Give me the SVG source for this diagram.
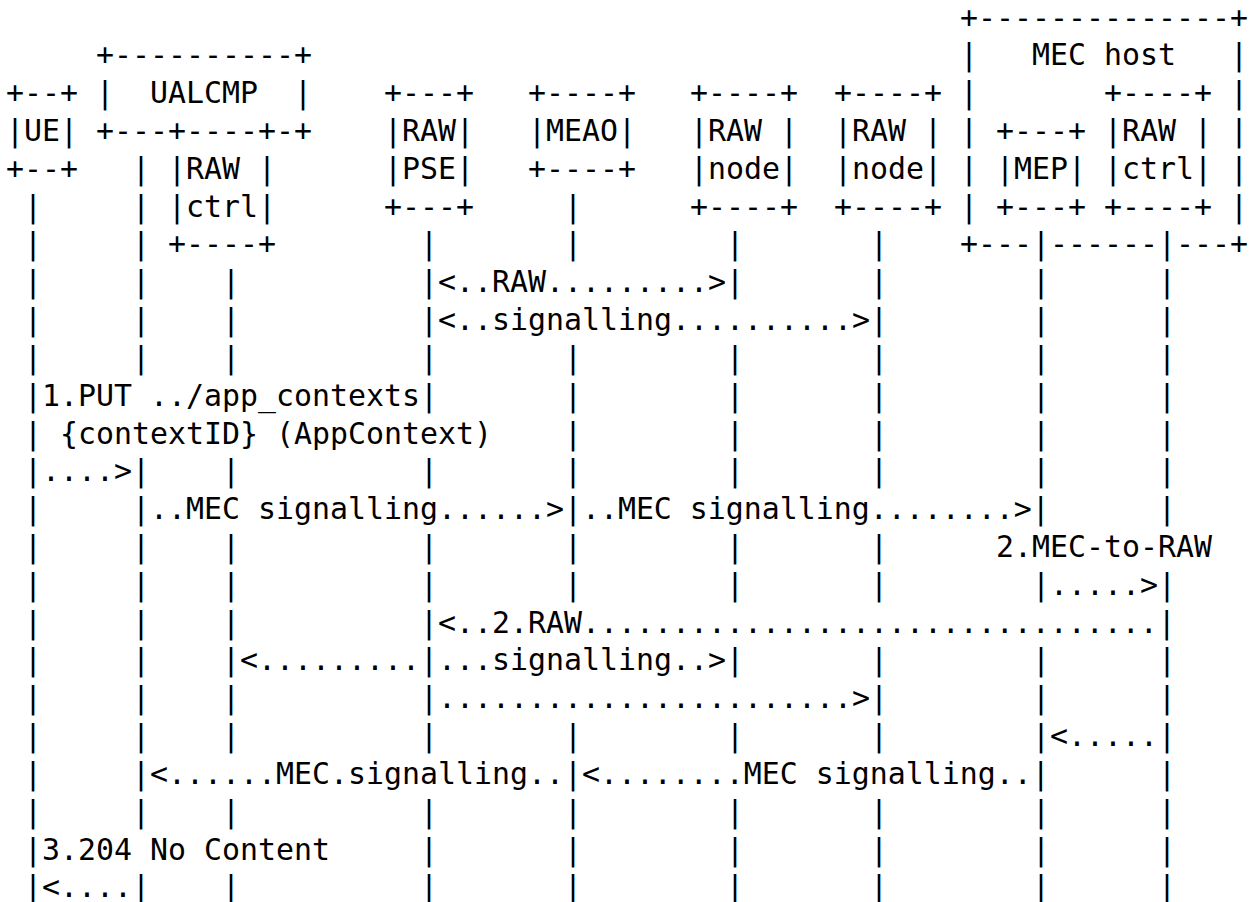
<svg xmlns="http://www.w3.org/2000/svg" width="1260" height="902" viewBox="0 0 1260 902" xml:space="preserve">
<style>
text { font-family: "DejaVu Sans Mono", "Liberation Mono", monospace; font-size: 29.9px; fill: #000; white-space: pre; }
</style>
<rect width="1260" height="902" fill="#fff"/>
<g id="ue">
<text x="6" y="103.14">+--+</text>
<text x="6" y="140.96">|UE|</text>
<text x="6" y="178.78">+--+</text>
</g>
<g id="ualcmp">
<text x="96" y="65.32">+----------+</text>
<text x="96" y="103.14">|  UALCMP  |</text>
<text x="96" y="140.96">+---+----+-+</text>
<g id="ualcmp-raw-ctrl">
<text x="168" y="178.78">|RAW |</text>
<text x="168" y="216.6">|ctrl|</text>
<text x="168" y="254.42">+----+</text>
</g>
</g>
<g id="raw-pse">
<text x="384" y="103.14">+---+</text>
<text x="384" y="140.96">|RAW|</text>
<text x="384" y="178.78">|PSE|</text>
<text x="384" y="216.6">+---+</text>
</g>
<g id="meao">
<text x="528" y="103.14">+----+</text>
<text x="528" y="140.96">|MEAO|</text>
<text x="528" y="178.78">+----+</text>
</g>
<g id="raw-node-1">
<text x="690" y="103.14">+----+</text>
<text x="690" y="140.96">|RAW |</text>
<text x="690" y="178.78">|node|</text>
<text x="690" y="216.6">+----+</text>
</g>
<g id="raw-node-2">
<text x="834" y="103.14">+----+</text>
<text x="834" y="140.96">|RAW |</text>
<text x="834" y="178.78">|node|</text>
<text x="834" y="216.6">+----+</text>
</g>
<g id="mec-host">
<text x="960" y="27.5">+--------------+</text>
<text x="960" y="65.32">|   MEC host   |</text>
<text x="960 1230" y="103.14">||</text>
<text x="960 1230" y="140.96">||</text>
<text x="960 1230" y="178.78">||</text>
<text x="960 1230" y="216.6">||</text>
<text x="960" y="254.42">+---|------|---+</text>
<g id="mep">
<text x="996" y="140.96">+---+</text>
<text x="996" y="178.78">|MEP|</text>
<text x="996" y="216.6">+---+</text>
</g>
<g id="mec-raw-ctrl">
<text x="1104" y="103.14">+----+</text>
<text x="1104" y="140.96">|RAW |</text>
<text x="1104" y="178.78">|ctrl|</text>
<text x="1104" y="216.6">+----+</text>
</g>
</g>
<g id="connectors">
<text x="132" y="178.78">|</text>
<text x="24 132 564" y="216.6">|||</text>
<text x="24 132 420 564 726 870" y="254.42">||||||</text>
<text x="24 132 222 870 1032 1158" y="292.24">||||||</text>
<text x="420" y="292.24">|&lt;..RAW.........&gt;|</text>
<text x="24 132 222 1032 1158" y="330.06">|||||</text>
<text x="420" y="330.06">|&lt;..signalling..........&gt;|</text>
<text x="24 132 222 420 564 726 870 1032 1158" y="367.88">|||||||||</text>
<text x="24" y="405.7">|1.PUT ../app_contexts|</text>
<text x="564 726 870 1032 1158" y="405.7">|||||</text>
<text x="24" y="443.52">| {contextID} (AppContext)</text>
<text x="564 726 870 1032 1158" y="443.52">|||||</text>
<text x="24" y="481.34">|....&gt;|</text>
<text x="222 420 564 726 870 1032 1158" y="481.34">|||||||</text>
<text x="24 1158" y="519.16">||</text>
<text x="132" y="519.16">|..MEC signalling......&gt;|..MEC signalling........&gt;|</text>
<text x="24 132 222 420 564 726 870" y="556.98">|||||||</text>
<text x="996" y="556.98">2.MEC-to-RAW</text>
<text x="24 132 222 420 564 726 870" y="594.8">|||||||</text>
<text x="1032" y="594.8">|.....&gt;|</text>
<text x="24 132 222" y="632.62">|||</text>
<text x="420" y="632.62">|&lt;..2.RAW................................|</text>
<text x="24 132 870 1032 1158" y="670.44">|||||</text>
<text x="222" y="670.44">|&lt;.........|...signalling..&gt;|</text>
<text x="24 132 222 1032 1158" y="708.26">|||||</text>
<text x="420" y="708.26">|.......................&gt;|</text>
<text x="24 132 222 420 564 726 870" y="746.08">|||||||</text>
<text x="1032" y="746.08">|&lt;.....|</text>
<text x="24 1158" y="783.9">||</text>
<text x="132" y="783.9">|&lt;......MEC.signalling..|&lt;........MEC signalling..|</text>
<text x="24 132 222 420 564 726 870 1032 1158" y="821.72">|||||||||</text>
<text x="24" y="859.54">|3.204 No Content</text>
<text x="420 564 726 870 1032 1158" y="859.54">||||||</text>
<text x="24" y="897.36">|&lt;....|</text>
<text x="222 420 564 726 870 1032 1158" y="897.36">|||||||</text>
</g>
</svg>
